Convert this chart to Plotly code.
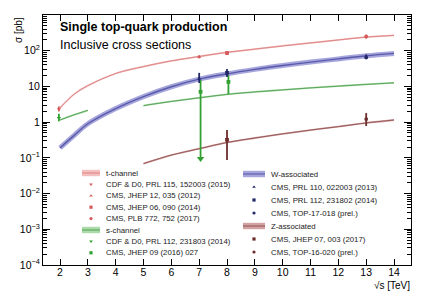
import plotly.graph_objects as go

# ---------------- data ----------------
# theory curves (sqrt(s) in TeV, sigma in pb)
t_curve_x = [2, 2.5, 3, 4, 5, 6, 7, 8, 9, 10, 11, 12, 13, 14]
t_curve_y = [2.5, 6.0, 10.5, 23, 36, 52, 69, 90, 111, 136, 165, 200, 240, 268]

s_tev_x = [2, 2.5, 3]
s_tev_y = [1.15, 1.6, 2.15]
s_lhc_x = [5, 6, 7, 8, 9, 10, 11, 12, 13, 14]
s_lhc_y = [2.9, 3.8, 4.8, 6.0, 7.0, 8.0, 9.1, 10.2, 11.4, 12.6]

w_curve_x = [2, 2.5, 3, 4, 5, 6, 7, 8, 9, 10, 11, 12, 13, 14]
w_curve_y = [0.19, 0.42, 0.9, 2.4, 5.2, 9.8, 16, 22.5, 30, 38.5, 48, 59, 72, 84]

z_curve_x = [5, 6, 7, 8, 9, 10, 11, 12, 13, 14]
z_curve_y = [0.069, 0.12, 0.18, 0.27, 0.36, 0.47, 0.6, 0.75, 0.95, 1.15]

# measurements
t_meas_x = [1.96, 7, 8, 13]
t_meas_y = [2.3, 67.2, 86, 250]
t_meas_up = [0.45, 6.1, 9, 30]
t_meas_dn = [0.3, 6.1, 9, 30]
t_meas_sym = ["triangle-down", "triangle-up", "square", "circle"]

s_meas_x = [1.96, 7.05, 8.05]
s_meas_y = [1.3, 7.1, 13.4]
s_meas_up = [0.42, 8.1, 7.3]
s_meas_dn = [0.25, 7.0, 7.3]
s_meas_sym = ["triangle-down", "square", "square"]
s_arrow_x = [7.05]
s_arrow_y = [0.095]

w_meas_x = [7, 8, 13]
w_meas_y = [16.5, 24, 65]
w_meas_up = [7.5, 7, 14]
w_meas_dn = [4, 5.5, 7]
w_meas_sym = ["triangle-up", "square", "circle"]

z_meas_x = [8, 13]
z_meas_y = [0.32, 1.22]
z_meas_up = [0.28, 0.58]
z_meas_dn = [0.233, 0.44]
z_meas_sym = ["square", "circle"]

y_tickvals = [1e-4, 1e-3, 1e-2, 1e-1, 1, 10, 100]
y_ticktext = ["10<sup>\u22124</sup>", "10<sup>\u22123</sup>", "10<sup>\u22122</sup>",
              "10<sup>\u22121</sup>", "1", "10", "10<sup>2</sup>"]
x_tickvals = list(range(2, 15))

legend_left = [
    ("band", "t-channel", "t"),
    ("marker", "CDF & D0, PRL 115, 152003 (2015)", "t", "triangle-down"),
    ("marker", "CMS, JHEP 12, 035 (2012)", "t", "triangle-up"),
    ("marker", "CMS, JHEP 06, 090 (2014)", "t", "square"),
    ("marker", "CMS, PLB 772, 752 (2017)", "t", "circle"),
    ("band", "s-channel", "s"),
    ("marker", "CDF & D0, PRL 112, 231803 (2014)", "s", "triangle-down"),
    ("marker", "CMS, JHEP 09 (2016) 027", "s", "square"),
]
legend_right = [
    ("band", "W-associated", "w"),
    ("marker", "CMS, PRL 110, 022003 (2013)", "w", "triangle-up"),
    ("marker", "CMS, PRL 112, 231802 (2014)", "w", "square"),
    ("marker", "CMS, TOP-17-018 (prel.)", "w", "circle"),
    ("band", "Z-associated", "z"),
    ("marker", "CMS, JHEP 07, 003 (2017)", "z", "square"),
    ("marker", "CMS, TOP-16-020 (prel.)", "z", "circle"),
]

# ---------------- styles ----------------
COL = {
    "t": dict(band="rgba(240,175,175,0.8)", line="rgb(222,135,135)", data="rgb(215,90,90)"),
    "s": dict(band="rgba(150,210,150,0.8)", line="rgb(90,165,90)", data="rgb(50,160,50)"),
    "w": dict(band="rgba(150,150,215,0.85)", line="rgb(90,90,170)", data="rgb(35,40,105)"),
    "z": dict(band="rgba(200,140,140,0.8)", line="rgb(150,90,90)", data="rgb(110,45,45)"),
}
FONT = "Liberation Sans, Arial, Helvetica, sans-serif"

W, H = 433, 305
ML, MR, MT, MB = 43, 22, 15, 40
PW, PH = W - ML - MR, H - MT - MB


def px(x):
    return (x - ML) / PW


def py(y):
    return (H - MB - y) / PH


fig = go.Figure()


def curve(xs, ys, key, width, bandwidth):
    fig.add_trace(go.Scatter(x=xs, y=ys, mode="lines", line=dict(color=COL[key]["band"], width=bandwidth, shape="spline"),
                             hoverinfo="skip", showlegend=False))
    fig.add_trace(go.Scatter(x=xs, y=ys, mode="lines", line=dict(color=COL[key]["line"], width=width, shape="spline"),
                             hoverinfo="skip", showlegend=False))


curve(t_curve_x, t_curve_y, "t", 1.0, 1.8)
curve(s_tev_x, s_tev_y, "s", 1.0, 1.8)
curve(s_lhc_x, s_lhc_y, "s", 1.0, 1.8)
curve(w_curve_x, w_curve_y, "w", 1.4, 5.0)
curve(z_curve_x, z_curve_y, "z", 1.0, 1.8)


def meas(xs, ys, up, dn, syms, key, size=3.8):
    fig.add_trace(go.Scatter(
        x=xs, y=ys, mode="markers",
        marker=dict(symbol=syms, size=size, color=COL[key]["data"]),
        error_y=dict(type="data", array=up, arrayminus=dn, symmetric=False,
                     color=COL[key]["data"], thickness=1.8, width=0),
        showlegend=False, cliponaxis=False))


meas(t_meas_x, t_meas_y, t_meas_up, t_meas_dn, t_meas_sym, "t")
meas(s_meas_x, s_meas_y, s_meas_up, s_meas_dn, s_meas_sym, "s")
fig.add_trace(go.Scatter(x=s_arrow_x, y=s_arrow_y, mode="markers",
                         marker=dict(symbol="triangle-down", size=6.5, color=COL["s"]["data"]),
                         showlegend=False))
meas(w_meas_x, w_meas_y, w_meas_up, w_meas_dn, w_meas_sym, "w")
meas(z_meas_x, z_meas_y, z_meas_up, z_meas_dn, z_meas_sym, "z")

# ---------------- legend (drawn manually) ----------------
shapes = []
annotations = []
LFONT = dict(family=FONT, size=7.8, color="#222")


def draw_legend(entries, y0, dy, sw0, sw1, mx, tx):
    lx, ly, ls, lc = [], [], [], []
    for i, e in enumerate(entries):
        yy = y0 + i * dy
        key = e[2]
        if e[0] == "band":
            shapes.append(dict(type="rect", xref="paper", yref="paper",
                               x0=px(sw0), x1=px(sw1), y0=py(yy + 3.2), y1=py(yy - 3.2),
                               fillcolor=COL[key]["band"], line=dict(width=0), layer="above"))
            shapes.append(dict(type="line", xref="paper", yref="paper",
                               x0=px(sw0), x1=px(sw1), y0=py(yy), y1=py(yy),
                               line=dict(color=COL[key]["line"], width=1.1), layer="above"))
        else:
            lx.append(px(mx))
            ly.append(py(yy))
            ls.append(e[3])
            lc.append(COL[key]["data"])
        annotations.append(dict(xref="paper", yref="paper", x=px(tx), y=py(yy), text=e[1],
                                showarrow=False, xanchor="left", yanchor="middle", font=LFONT))
    fig.add_trace(go.Scatter(x=lx, y=ly, xaxis="x2", yaxis="y2", mode="markers",
                             marker=dict(symbol=ls, size=3.2, color=lc), showlegend=False,
                             hoverinfo="skip", cliponaxis=False))


draw_legend(legend_left, 173, 11.4, 82, 100, 91, 104)
draw_legend(legend_right, 174, 13.0, 243, 265, 254, 269)

# titles
annotations.append(dict(xref="paper", yref="paper", x=px(58), y=py(27), text="<b>Single top-quark production</b>",
                        showarrow=False, xanchor="left", yanchor="middle",
                        font=dict(family=FONT, size=12.5, color="black")))
annotations.append(dict(xref="paper", yref="paper", x=px(58), y=py(45), text="Inclusive cross sections",
                        showarrow=False, xanchor="left", yanchor="middle",
                        font=dict(family=FONT, size=12.5, color="black")))
annotations.append(dict(xref="paper", yref="paper", x=px(412), y=py(285), text="\u221as [TeV]",
                        showarrow=False, xanchor="right", yanchor="middle",
                        font=dict(family=FONT, size=10, color="black")))
annotations.append(dict(xref="paper", yref="paper", x=px(18), y=py(15), text="\u03c3 [pb]",
                        showarrow=False, xanchor="center", yanchor="top", textangle=-90,
                        font=dict(family=FONT, size=10, color="black")))

minor_y = [m * 10 ** k for k in range(-4, 3) for m in range(2, 10)]

fig.update_layout(
    width=W, height=H,
    margin=dict(l=ML, r=MR, t=MT, b=MB),
    paper_bgcolor="white", plot_bgcolor="white",
    font=dict(family=FONT, color="black"),
    showlegend=False,
    shapes=shapes, annotations=annotations,
    xaxis=dict(range=[1.389, 14.61], tickmode="array", tickvals=x_tickvals,
               ticks="inside", ticklen=6, tickcolor="black", tickwidth=1,
               showline=True, linecolor="black", linewidth=1, mirror="allticks",
               showgrid=False, zeroline=False, tickfont=dict(size=10.5, family=FONT),
               ticklabelstandoff=-3),
    yaxis=dict(type="log", range=[-4, 3], tickmode="array", tickvals=y_tickvals, ticktext=y_ticktext,
               ticks="inside", ticklen=7, tickcolor="black", tickwidth=1,
               showline=True, linecolor="black", linewidth=1, mirror="allticks",
               showgrid=False, zeroline=False, tickfont=dict(size=10.5, family=FONT),
               minor=dict(tickmode="array", tickvals=minor_y, ticks="inside", ticklen=4,
                          tickcolor="black", showgrid=False)),
    xaxis2=dict(overlaying="x", range=[0, 1], visible=False),
    yaxis2=dict(overlaying="y", range=[0, 1], visible=False),
)

fig.write_html("out.html", config={"displayModeBar": False},
               post_script="document.body.style.margin='0';document.body.style.overflow='hidden';")
